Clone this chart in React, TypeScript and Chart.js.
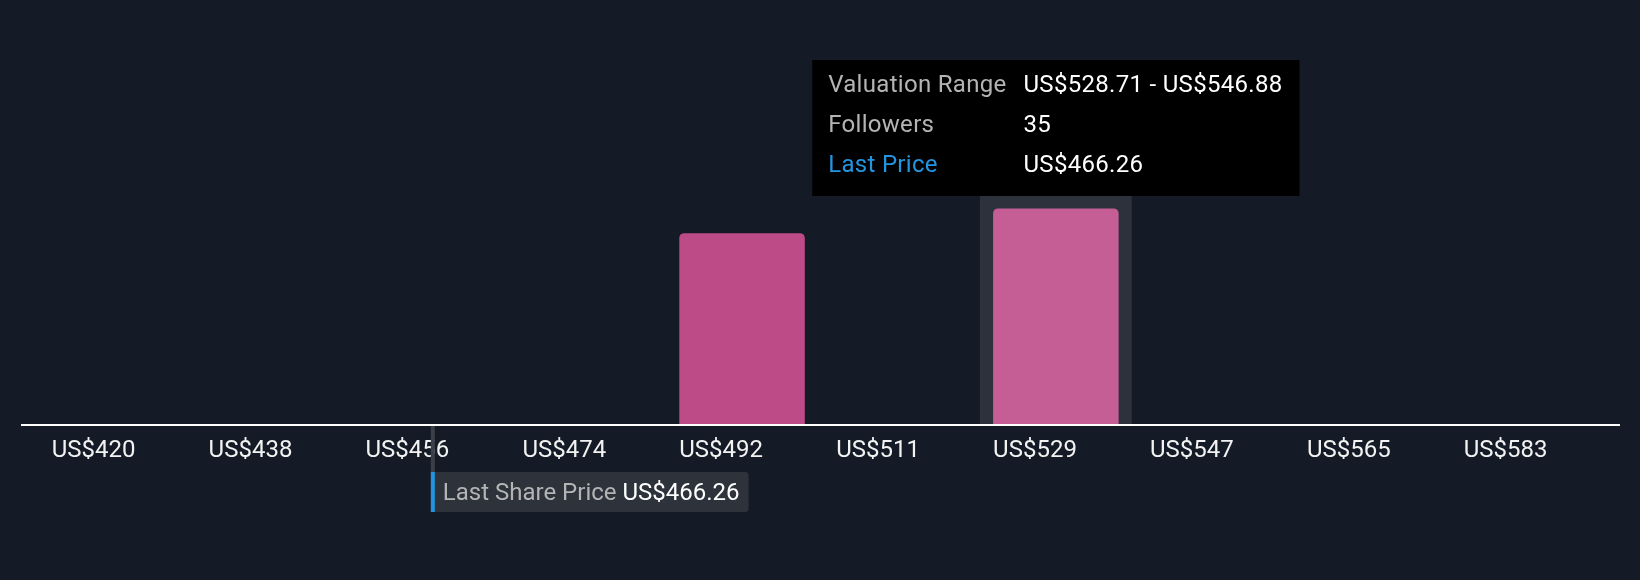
import React, { useEffect, useRef } from "react";
import { Chart, registerables } from "chart.js";

Chart.register(...registerables);

// ---- data ----
const BIN_STARTS = [419.69, 437.86, 456.03, 474.2, 492.37, 510.54, 528.71, 546.88, 565.05, 583.22];
const BIN_ENDS = [437.86, 456.03, 474.2, 492.37, 510.54, 528.71, 546.88, 565.05, 583.22, 601.39];
const TICK_LABELS = ["US$420", "US$438", "US$456", "US$474", "US$492", "US$511", "US$529", "US$547", "US$565", "US$583"];
const FOLLOWERS = [0, 0, 0, 0, 31, 0, 35, 0, 0, 0];
const LAST_PRICE = 466.26;
const ACTIVE_INDEX = 6;
const Y_MAX = 37;

const FONT = "Roboto";
const BG = "#151b26";
const BAR = "#bc4b87";
const BAR_ACTIVE = "#c45e95";
const HILITE = "#2c313b";
const BLUE = "#2394df";
const GREY_TEXT = "#b4b4b4";
const AXIS_EXT = 15;

const fmt = (v: number) => "US$" + v.toFixed(2);

export default function App() {
  const ref = useRef<HTMLCanvasElement>(null);

  useEffect(() => {
    const canvas = ref.current!;

    const highlight = {
      id: "highlight",
      beforeDatasetsDraw(chart: any) {
        const { ctx, chartArea } = chart;
        const xs = chart.scales.x;
        const cx = xs.getPixelForValue(ACTIVE_INDEX);
        const cw = (xs.right - xs.left) / TICK_LABELS.length;
        const w = cw - 5;
        ctx.save();
        ctx.fillStyle = HILITE;
        ctx.fillRect(cx - w / 2, chartArea.top, w, chartArea.bottom - chartArea.top);
        ctx.restore();
      },
    };

    const overlay = {
      id: "overlay",
      afterDraw(chart: any) {
        const { ctx, chartArea } = chart;
        const xs = chart.scales.x;
        const axL = xs.left - AXIS_EXT;
        const axR = xs.right + AXIS_EXT;
        const y0 = chartArea.bottom;
        ctx.save();
        // axis line
        ctx.strokeStyle = "#ffffff";
        ctx.lineWidth = 2;
        ctx.beginPath();
        ctx.moveTo(axL, y0);
        ctx.lineTo(axR, y0);
        ctx.stroke();

        // last price marker
        const lo = BIN_STARTS[0];
        const hi = BIN_ENDS[BIN_ENDS.length - 1];
        const px = axL + ((LAST_PRICE - lo) / (hi - lo)) * (axR - axL);
        const boxTop = y0 + 47;
        const boxH = 40;
        ctx.fillStyle = "#3b3f48";
        ctx.fillRect(px, y0 + 1, 4, boxTop - y0 - 1);

        ctx.font = `24px ${FONT}`;
        const t1 = "Last Share Price";
        const t2 = fmt(LAST_PRICE);
        const w1 = ctx.measureText(t1).width;
        const w2 = ctx.measureText(t2).width;
        const boxW = 12 + w1 + 6 + w2 + 9;
        ctx.fillStyle = "#2d323b";
        ctx.beginPath();
        ctx.roundRect(px, boxTop, boxW, boxH, [0, 4, 4, 0]);
        ctx.fill();
        ctx.fillStyle = BLUE;
        ctx.fillRect(px, boxTop, 4, boxH);
        ctx.textBaseline = "alphabetic";
        ctx.textAlign = "left";
        ctx.fillStyle = GREY_TEXT;
        ctx.fillText(t1, px + 12, boxTop + 27.5);
        ctx.fillStyle = "#ffffff";
        ctx.fillText(t2, px + 12 + w1 + 6, boxTop + 27.5);

        // tooltip
        (ctx as any).letterSpacing = "0.3px";
        const rows = [
          ["Valuation Range", fmt(BIN_STARTS[ACTIVE_INDEX]) + " - " + fmt(BIN_ENDS[ACTIVE_INDEX]), GREY_TEXT],
          ["Followers", String(FOLLOWERS[ACTIVE_INDEX]), GREY_TEXT],
          ["Last Price", fmt(LAST_PRICE), BLUE],
        ];
        const lw = Math.max(...rows.map((r) => ctx.measureText(r[0]).width));
        const vw = Math.max(...rows.map((r) => ctx.measureText(r[1]).width));
        const tw = 16 + lw + 17 + vw + 17;
        const th = 136;
        const cx = xs.getPixelForValue(ACTIVE_INDEX);
        const tl = cx - tw / 2;
        const tt = chartArea.top - th;
        ctx.fillStyle = "#000000";
        ctx.fillRect(tl, tt, tw, th);
        rows.forEach((r, i) => {
          const by = tt + 31.5 + i * 40.3;
          ctx.fillStyle = r[2];
          ctx.fillText(r[0], tl + 16, by);
          ctx.fillStyle = "#ffffff";
          ctx.fillText(r[1], tl + 16 + lw + 17, by);
        });
        ctx.restore();
      },
    };

    const chart = new Chart(canvas, {
      type: "bar",
      data: {
        labels: TICK_LABELS,
        datasets: [
          {
            data: FOLLOWERS,
            backgroundColor: FOLLOWERS.map((_, i) => (i === ACTIVE_INDEX ? BAR_ACTIVE : BAR)),
            borderRadius: 5,
            borderSkipped: "start",
            categoryPercentage: 1,
            barPercentage: 0.8,
          },
        ],
      },
      options: {
        responsive: false,
        animation: false,
        devicePixelRatio: 1,
        events: [],
        layout: { padding: { left: 36, right: 35, top: 196, bottom: 0 } },
        plugins: { legend: { display: false }, tooltip: { enabled: false } },
        scales: {
          x: {
            grid: { display: false, drawTicks: false },
            border: { display: false },
            afterFit(scale: any) {
              scale.height = 155;
            },
            ticks: {
              color: "#f2f2f2",
              font: { family: FONT, size: 24 },
              align: "start",
              labelOffset: -62.75,
              padding: 12,
              maxRotation: 0,
              autoSkip: false,
            },
          },
          y: { display: false, min: 0, max: Y_MAX },
        },
      },
      plugins: [highlight, overlay],
    });
    return () => chart.destroy();
  }, []);

  return (
    <div style={{ position: "fixed", left: 0, top: 0, width: 1640, height: 580, background: BG }}>
      <canvas ref={ref} width={1640} height={580} style={{ display: "block" }} />
    </div>
  );
}
